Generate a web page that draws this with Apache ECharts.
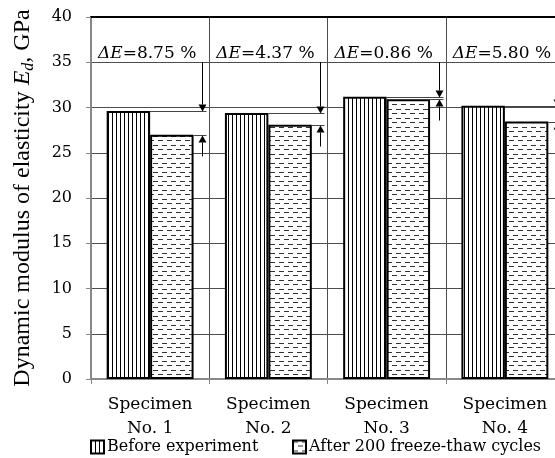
<!DOCTYPE html>
<html><head><meta charset="utf-8">
<script src="https://cdn.jsdelivr.net/npm/echarts@6/dist/echarts.min.js"></script>
<style>html,body{margin:0;padding:0;background:#fff;overflow:hidden}#c{width:564px;height:458px}</style>
</head><body><div id="c"></div>
<script>
// ---- data ----
const categories = ['Specimen\nNo. 1', 'Specimen\nNo. 2', 'Specimen\nNo. 3', 'Specimen\nNo. 4'];
const beforeValues = [29.6, 29.4, 31.2, 30.2];
const afterValues = [27.0, 28.1, 30.9, 28.45];
const deltaLabels = ['8.75 %', '4.37 %', '0.86 %', '5.80 %'];
const seriesNames = ['Before experiment', 'After 200 freeze-thaw cycles'];
const yMin = 0, yMax = 40, yStep = 5;
const arrowFromValue = 35;   // dimension arrows start at this gridline
const labelAtValue = 36;     // ΔE labels sit at this level

// ---- patterns ----
function stripes() {
  const c = document.createElement('canvas'); c.width = 4; c.height = 4;
  const g = c.getContext('2d');
  g.fillStyle = '#fff'; g.fillRect(0, 0, 4, 4);
  g.fillStyle = '#000'; g.fillRect(0, 0, 1, 4);
  return c;
}
function dashes() {
  const c = document.createElement('canvas'); c.width = 9; c.height = 9;
  const g = c.getContext('2d');
  g.fillStyle = '#fff'; g.fillRect(0, 0, 9, 9);
  g.fillStyle = '#333';
  g.fillRect(0, 1, 5, 1);
  g.fillRect(5, 5, 4, 1); g.fillRect(0, 5, 1, 1);
  return c;
}
const SERIF = 'DejaVu Serif';
const BAR_W = 0.3675;

function renderItem(params, api) {
  const i = params.dataIndex;
  const idx = api.value(0);
  const pB = api.coord([idx, api.value(1)]);
  const pA = api.coord([idx, api.value(2)]);
  const pTop = api.coord([idx, arrowFromValue]);
  const pLab = api.coord([idx, labelAtValue]);
  const bw = api.size([1, 0])[0];
  const cx = pB[0];
  const ax = Math.round(cx + bw * 0.44) + 0.5;
  const yb = Math.round(pB[1]) + 0.5, ya = Math.round(pA[1]) + 0.5;
  const ln = { stroke: '#000', lineWidth: 1 };
  const hl = { stroke: '#444', lineWidth: 1 };
  return {
    type: 'group',
    children: [
      { type: 'text', x: cx - 3, y: pLab[1],
        style: { text: '{i|ΔE}{n|=' + deltaLabels[i] + '}', align: 'center', verticalAlign: 'middle', fill: '#000',
          rich: { i: { fontFamily: SERIF, fontStyle: 'italic', fontSize: 17, fill: '#000' },
                  n: { fontFamily: SERIF, fontSize: 17, fill: '#000' } } } },
      { type: 'line', shape: { x1: cx, y1: yb, x2: ax + 4, y2: yb }, style: hl },
      { type: 'line', shape: { x1: cx + bw * BAR_W, y1: ya, x2: ax + 4, y2: ya }, style: hl },
      { type: 'line', shape: { x1: ax, y1: Math.round(pTop[1]), x2: ax, y2: yb - 7 }, style: ln },
      { type: 'polygon', shape: { points: [[ax - 4, yb - 7], [ax + 4, yb - 7], [ax, yb]] }, style: { fill: '#000' } },
      { type: 'line', shape: { x1: ax, y1: ya + 21, x2: ax, y2: ya + 7 }, style: ln },
      { type: 'polygon', shape: { points: [[ax - 4, ya + 7], [ax + 4, ya + 7], [ax, ya]] }, style: { fill: '#000' } }
    ]
  };
}

const legendBase = {
  itemWidth: 13, itemHeight: 13, icon: 'rect', padding: 0, itemGap: 0, top: 439,
  itemStyle: { borderColor: '#000', borderWidth: 2 },
  textStyle: { fontFamily: SERIF, fontSize: 16, color: '#000', padding: [0, 0, 0, -2] }
};

const chart = echarts.init(document.getElementById('c'), null, { renderer: 'canvas' });
chart.setOption({
  animation: false,
  backgroundColor: '#fff',
  grid: { left: 91, right: 0, top: 17, bottom: 79, containLabel: false },
  legend: [
    Object.assign({}, legendBase, { data: [seriesNames[0]], left: 90 }),
    Object.assign({}, legendBase, { data: [seriesNames[1]], left: 292 })
  ],
  xAxis: [{
    type: 'category', data: categories,
    axisLine: { lineStyle: { color: '#888', width: 2 } },
    axisTick: { show: true, length: 5, lineStyle: { color: '#888', width: 1 } },
    axisLabel: { fontFamily: SERIF, fontSize: 17, color: '#000', lineHeight: 24, margin: 14 },
    splitLine: { show: true, lineStyle: { color: '#4d4d4d', width: 1 } }
  }, {
    type: 'category', data: categories, position: 'top',
    axisLine: { lineStyle: { color: '#000', width: 2 } },
    axisTick: { show: false }, axisLabel: { show: false }, splitLine: { show: false }
  }],
  yAxis: {
    type: 'value', min: yMin, max: yMax, interval: yStep,
    name: '{n|Dynamic modulus of elasticity }{i|E}{s|d}{n|, GPa}',
    nameLocation: 'middle', nameGap: 54,
    nameTextStyle: {
      color: '#000',
      rich: {
        n: { fontFamily: 'Liberation Serif', fontSize: 24, color: '#000' },
        i: { fontFamily: 'Liberation Serif', fontStyle: 'italic', fontSize: 24, color: '#000' },
        s: { fontFamily: 'Liberation Serif', fontStyle: 'italic', fontSize: 16, color: '#000', verticalAlign: 'bottom', padding: [12, 0, 0, 0] }
      }
    },
    axisLine: { show: true, lineStyle: { color: '#888', width: 2 } },
    axisTick: { show: true, length: 5, lineStyle: { color: '#888', width: 1 } },
    axisLabel: { fontFamily: SERIF, fontSize: 16, color: '#000', margin: 19 },
    splitLine: { show: true, lineStyle: { color: '#4d4d4d', width: 1 } }
  },
  series: [
    { name: seriesNames[0], type: 'bar', data: beforeValues, barWidth: (BAR_W * 100) + '%', barGap: '0%',
      itemStyle: { color: { image: stripes(), repeat: 'repeat' }, borderColor: '#000', borderWidth: 2 } },
    { name: seriesNames[1], type: 'bar', data: afterValues, barWidth: (BAR_W * 100) + '%', barGap: '0%',
      itemStyle: { color: { image: dashes(), repeat: 'repeat' }, borderColor: '#000', borderWidth: 2 } },
    { type: 'custom', renderItem: renderItem, z: 5, silent: true,
      data: beforeValues.map((b, i) => [i, b, afterValues[i]]), encode: { x: 0, y: [1, 2] } }
  ]
});
</script></body></html>
